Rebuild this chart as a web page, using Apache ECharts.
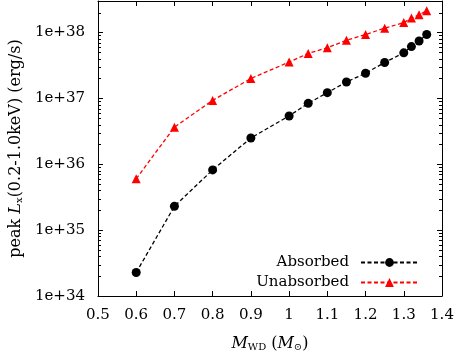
<!DOCTYPE html>
<html>
<head>
<meta charset="utf-8">
<script src="https://cdn.jsdelivr.net/npm/echarts@6/dist/echarts.min.js"></script>
<style>
html,body{margin:0;padding:0;background:#fff;}
#chart{width:458px;height:357px;}
</style>
</head>
<body>
<div id="chart"></div>
<script>
// ---- data ----
const masses = [0.6, 0.7, 0.8, 0.9, 1.0, 1.05, 1.1, 1.15, 1.2, 1.25, 1.3, 1.32, 1.34, 1.36];
const absorbed = [2.27e34, 2.3e35, 8.2e35, 2.5e36, 5.4e36, 8.4e36, 1.22e37, 1.77e37, 2.4e37, 3.5e37, 4.9e37, 6.1e37, 7.4e37, 9.3e37];
const unabsorbed = [6.0e35, 3.65e36, 9.3e36, 2.0e37, 3.55e37, 4.8e37, 5.85e37, 7.6e37, 9.3e37, 1.16e38, 1.41e38, 1.65e38, 1.85e38, 2.13e38];
const seriesNames = ['Absorbed', 'Unabsorbed'];
const xTicks = [0.5, 0.6, 0.7, 0.8, 0.9, 1.0, 1.1, 1.2, 1.3, 1.4];
const yDecades = [34, 35, 36, 37, 38];
const yTickLabels = ['1e+34', '1e+35', '1e+36', '1e+37', '1e+38'];
const minorMultipliers = [2, 3, 4, 5, 6, 7, 8, 9];

const xMin = 0.5, xMax = 1.4, yMin = 1e34, yMax = 3e38;
const FONT = 'DejaVu Serif';
const FS = 15;

const minorTickValues = [];
yDecades.forEach(d => minorMultipliers.forEach(m => {
  const v = m * Math.pow(10, d);
  if (v < yMax) minorTickValues.push(v);
}));

function yLabel(v) {
  const e = Math.log10(v);
  const r = Math.round(e);
  if (Math.abs(e - r) > 1e-6) return '';
  const i = yDecades.indexOf(r);
  return i >= 0 ? yTickLabels[i] : '';
}
function xLabel(v) {
  for (const t of xTicks) if (Math.abs(t - v) < 1e-6) return String(+t.toFixed(2));
  return '';
}

const chart = echarts.init(document.getElementById('chart'), null, {renderer: 'canvas'});
const tickStyle = {show: true, inside: true, length: 5, lineStyle: {color: '#000', width: 1}};
const lineAxis = {show: true, lineStyle: {color: '#000', width: 1}};

chart.setOption({
  animation: false,
  backgroundColor: '#fff',
  grid: {left: 86, right: 16, top: 1, bottom: 60, containLabel: false},
  legend: {
    data: seriesNames,
    orient: 'vertical',
    align: 'right',
    right: 39,
    top: 255,
    padding: 0,
    itemWidth: 57,
    itemHeight: 11,
    itemGap: 5,
    textStyle: {fontFamily: FONT, fontSize: FS, color: '#000', padding: [0, 7, 0, 0]}
  },
  xAxis: [{
    type: 'value', min: xMin, max: xMax, interval: 0.1,
    position: 'bottom',
    axisLine: lineAxis, axisTick: tickStyle, splitLine: {show: false},
    axisLabel: {formatter: xLabel, fontFamily: FONT, fontSize: FS, color: '#000', margin: 12},
    name: '{i|M}{s|WD}{n| (}{i|M}{s|⊙}{n|)}',
    nameLocation: 'middle', nameGap: 38,
    nameTextStyle: {
      rich: {
        i: {fontFamily: FONT, fontStyle: 'italic', fontSize: 16, color: '#000', lineHeight: 18, verticalAlign: 'bottom'},
        n: {fontFamily: FONT, fontSize: 16, color: '#000', lineHeight: 18, verticalAlign: 'bottom'},
        s: {fontFamily: FONT, fontSize: 10, color: '#000', lineHeight: 14, verticalAlign: 'bottom'}
      }
    }
  }, {
    type: 'value', min: xMin, max: xMax, interval: 0.1,
    position: 'top',
    axisLine: lineAxis, axisTick: tickStyle, splitLine: {show: false},
    axisLabel: {show: false}
  }],
  yAxis: [{
    type: 'log', logBase: 10, min: yMin, max: yMax,
    position: 'left',
    axisLine: lineAxis, axisTick: tickStyle, splitLine: {show: false}, minorTick: {show: false},
    axisLabel: {formatter: yLabel, fontFamily: FONT, fontSize: FS, color: '#000', margin: 13, showMaxLabel: false},
    name: '{n|peak }{i|L}{s|x}{n|(0.2-1.0keV) (erg/s)}',
    nameLocation: 'middle', nameRotate: 90, nameGap: 66,
    nameTextStyle: {
      rich: {
        i: {fontFamily: FONT, fontStyle: 'italic', fontSize: 16, color: '#000', lineHeight: 18, verticalAlign: 'bottom'},
        n: {fontFamily: FONT, fontSize: 16, color: '#000', lineHeight: 18, verticalAlign: 'bottom'},
        s: {fontFamily: FONT, fontSize: 10, color: '#000', lineHeight: 14, verticalAlign: 'bottom'}
      }
    }
  }, {
    type: 'log', logBase: 10, min: yMin, max: yMax,
    position: 'right',
    axisLine: lineAxis, axisTick: tickStyle, splitLine: {show: false},
    axisLabel: {show: false}
  }],
  series: [{
    name: seriesNames[0], type: 'line',
    data: masses.map((m, i) => [m, absorbed[i]]),
    symbol: 'circle', symbolSize: 9,
    itemStyle: {color: '#000'},
    lineStyle: {color: '#000', width: 1.3, type: [4, 2.5]},
    z: 3
  }, {
    name: seriesNames[1], type: 'line',
    data: masses.map((m, i) => [m, unabsorbed[i]]),
    symbol: 'triangle', symbolSize: 9,
    itemStyle: {color: '#f00'},
    lineStyle: {color: '#f00', width: 1.3, type: [4, 2.5]},
    z: 3
  }, {
    name: 'minorTicks', type: 'custom', silent: true,
    data: minorTickValues.map(v => [xMin, v]),
    renderItem: function (params, api) {
      const v = api.value(1);
      const pL = api.coord([xMin, v]);
      const pR = api.coord([xMax, v]);
      const y = Math.round(pL[1]) + 0.5;
      return {
        type: 'group',
        children: [
          {type: 'line', shape: {x1: pL[0], y1: y, x2: pL[0] + 3, y2: y}, style: {stroke: '#000', lineWidth: 1}},
          {type: 'line', shape: {x1: pR[0], y1: y, x2: pR[0] - 3, y2: y}, style: {stroke: '#000', lineWidth: 1}}
        ]
      };
    },
    z: 4
  }]
});
</script>
</body>
</html>
